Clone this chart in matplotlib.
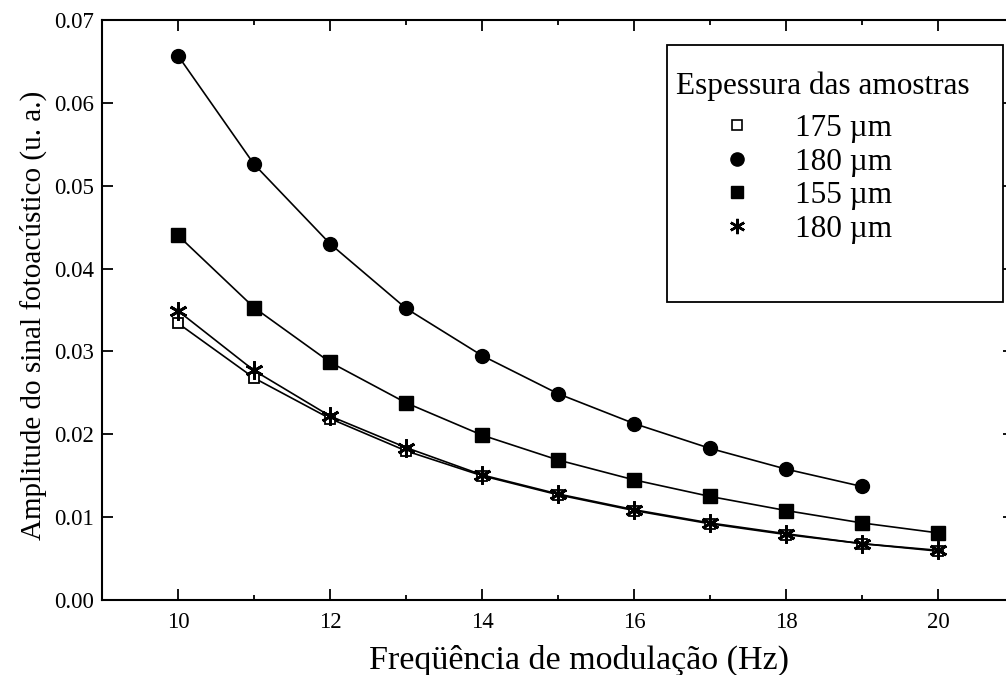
import matplotlib
matplotlib.use("Agg")
import matplotlib.pyplot as plt
from matplotlib.lines import Line2D
from matplotlib.patches import Rectangle

plt.rcParams['font.family'] = ['Liberation Serif', 'DejaVu Serif']

# frequencies (Hz)
freq_a = [10, 11, 12, 13, 14, 15, 16, 17, 18, 19, 20]
freq_b = [10, 11, 12, 13, 14, 15, 16, 17, 18, 19]

# amplitudes (u. a.)
amp_175 = [0.0334, 0.0268, 0.0219, 0.0180, 0.0150, 0.0127, 0.0108, 0.0092, 0.0079, 0.0068, 0.0059]
amp_180a = [0.0657, 0.0526, 0.0430, 0.0352, 0.0295, 0.0249, 0.0213, 0.0183, 0.0158, 0.0137]
amp_155 = [0.0440, 0.0353, 0.0287, 0.0238, 0.0199, 0.0169, 0.0145, 0.0125, 0.0108, 0.0093, 0.0081]
amp_180b = [0.0349, 0.0277, 0.0222, 0.0184, 0.0151, 0.0128, 0.0109, 0.0093, 0.0080, 0.0068, 0.0060]

labels = ["175 \u00b5m", "180 \u00b5m", "155 \u00b5m", "180 \u00b5m"]
x_ticks = [10, 12, 14, 16, 18, 20]
y_ticks = [0.00, 0.01, 0.02, 0.03, 0.04, 0.05, 0.06, 0.07]

asterisk = (6, 2, 0)

fig = plt.figure(figsize=(10.06, 6.75), dpi=100)
ax = fig.add_axes([102 / 1006, 75 / 675, 912 / 1006, 580 / 675])

ax.plot(freq_a, amp_175, color='black', lw=1.2, marker='s', ms=7.5,
        mfc='white', mec='black', mew=1.3, zorder=3)
ax.plot(freq_b, amp_180a, color='black', lw=1.2, marker='o', ms=10,
        mfc='black', mec='black', zorder=3)
ax.plot(freq_a, amp_155, color='black', lw=1.2, marker='s', ms=9.5,
        mfc='black', mec='black', zorder=3)
ax.plot(freq_a, amp_180b, color='black', lw=1.2, marker=asterisk, ms=13,
        mec='black', mew=2.0, zorder=4)

ax.set_xlim(9, 21)
ax.set_ylim(0, 0.07)
ax.set_xticks(x_ticks)
ax.set_xticks([11, 13, 15, 17, 19], minor=True)
ax.set_yticks(y_ticks)
ax.set_yticklabels([f"{v:.2f}" for v in y_ticks])

ax.tick_params(which='both', direction='in', top=True, right=True, labelsize=16.5, width=1.3)
ax.tick_params(which='major', length=8)
ax.tick_params(which='minor', length=3.5)
ax.tick_params(axis='x', pad=9)
ax.tick_params(axis='y', pad=6)
for s in ax.spines.values():
    s.set_linewidth(1.5)

ax.set_xlabel("Freq\u00fc\u00eancia de modula\u00e7\u00e3o (Hz)", fontsize=24.5)
ax.xaxis.set_label_coords((579 - 102) / 912, -0.078)
ax.set_ylabel("Amplitude do sinal fotoac\u00fastico (u. a.)", fontsize=21)
ax.yaxis.set_label_coords(-0.06, 0.49)

# legend: title, entries and frame
fig.text(676 / 1006, 1 - 86 / 675, "Espessura das amostras", fontsize=22.5,
         ha='left', va='center')
handles = [
    Line2D([], [], ls='None', marker='s', ms=7.5, mfc='white', mec='black', mew=1.2),
    Line2D([], [], ls='None', marker='o', ms=9.5, mfc='black', mec='black'),
    Line2D([], [], ls='None', marker='s', ms=8.5, mfc='black', mec='black'),
    Line2D([], [], ls='None', marker=asterisk, ms=11, mec='black', mew=1.8),
]
leg = ax.legend(handles, labels, fontsize=22.5, frameon=False,
                loc='upper left', bbox_to_anchor=(676 / 1006, 1 - 114 / 675),
                bbox_transform=fig.transFigure, borderpad=0, borderaxespad=0,
                handlelength=3.9, handletextpad=-0.1, labelspacing=0.15)
fig.patches.append(Rectangle((667 / 1006, 1 - 302 / 675), 336 / 1006, 257 / 675,
                             transform=fig.transFigure, fill=False,
                             edgecolor='black', lw=1.3, zorder=5))

fig.savefig("out.png", dpi=100)
